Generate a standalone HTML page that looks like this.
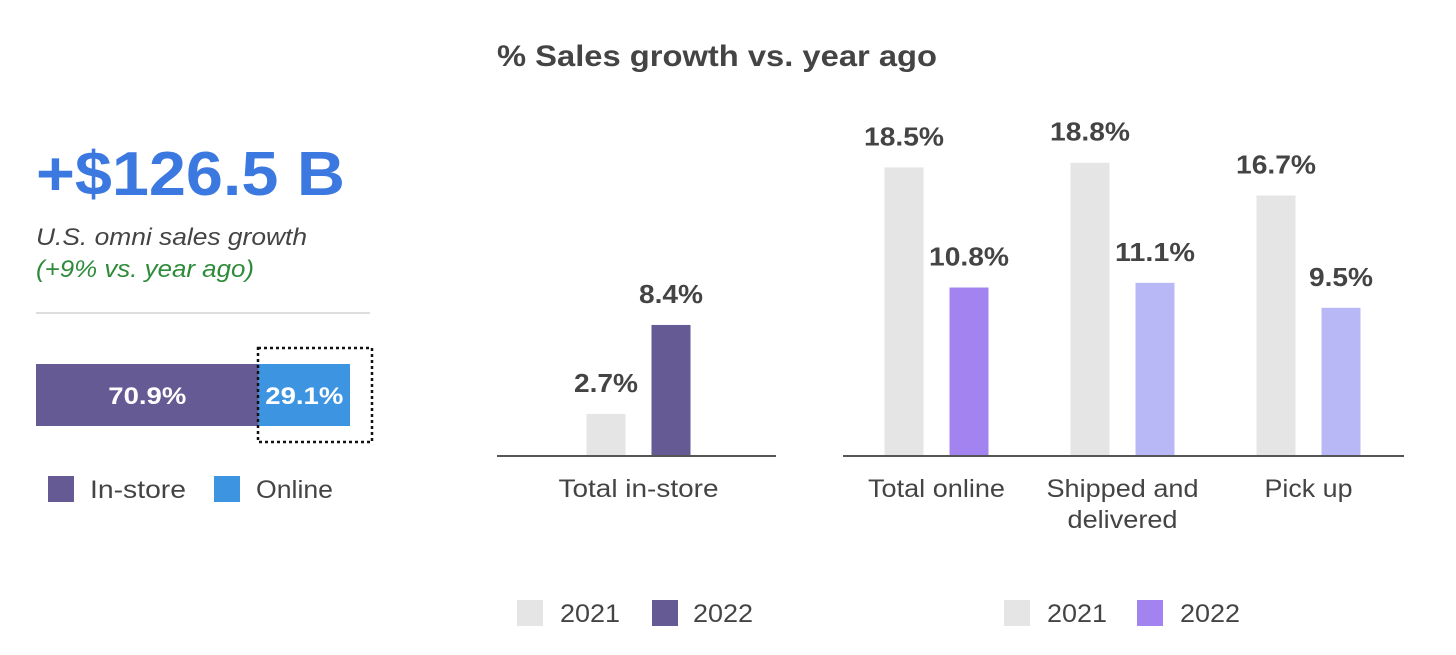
<!DOCTYPE html>
<html><head><meta charset="utf-8"><style>
body{margin:0;width:1456px;height:650px;background:#fff;font-family:"Liberation Sans",sans-serif;overflow:hidden}
svg text{font-family:"Liberation Sans",sans-serif}
</style></head><body>
<svg id="c" width="1456" height="650">
<text x="497" y="66" font-size="30" font-weight="bold" fill="#444" textLength="440" lengthAdjust="spacingAndGlyphs">% Sales growth vs. year ago</text>
<text x="36" y="195" font-size="62" font-weight="bold" fill="#3b78e0" textLength="309" lengthAdjust="spacingAndGlyphs">+$126.5 B</text>
<text x="36" y="245" font-size="24" font-style="italic" fill="#444" textLength="271" lengthAdjust="spacingAndGlyphs">U.S. omni sales growth</text>
<text x="36" y="277" font-size="24" font-style="italic" fill="#2e8b3a" textLength="218" lengthAdjust="spacingAndGlyphs">(+9% vs. year ago)</text>
<line x1="36" y1="313" x2="370" y2="313" stroke="#ddd" stroke-width="2"/>
<g id="stack"></g>
<rect x="258" y="348" width="114" height="94" fill="none" stroke="#111" stroke-width="2.5" stroke-dasharray="3,3"/>
<rect x="48" y="476" width="26" height="26" fill="#655a93"/>
<text x="90" y="498" font-size="25" fill="#444" textLength="96" lengthAdjust="spacingAndGlyphs">In-store</text>
<rect x="214" y="476" width="26" height="26" fill="#3d94e0"/>
<text x="256" y="498" font-size="25" fill="#444" textLength="77" lengthAdjust="spacingAndGlyphs">Online</text>
<g id="bars"></g>
<line x1="497" y1="456" x2="776" y2="456" stroke="#555" stroke-width="2"/>
<line x1="843" y1="456" x2="1404" y2="456" stroke="#555" stroke-width="2"/>
<rect x="517" y="600" width="26" height="26" fill="#e5e5e5"/>
<text x="560" y="622" font-size="25" fill="#444" textLength="60" lengthAdjust="spacingAndGlyphs">2021</text>
<rect x="652" y="600" width="26" height="26" fill="#655a93"/>
<text x="693" y="622" font-size="25" fill="#444" textLength="60" lengthAdjust="spacingAndGlyphs">2022</text>
<rect x="1004" y="600" width="26" height="26" fill="#e5e5e5"/>
<text x="1047" y="622" font-size="25" fill="#444" textLength="60" lengthAdjust="spacingAndGlyphs">2021</text>
<rect x="1137" y="600" width="26" height="26" fill="#a283ef"/>
<text x="1180" y="622" font-size="25" fill="#444" textLength="60" lengthAdjust="spacingAndGlyphs">2022</text>
</svg>
<script>
const shareLabels=["In-store","Online"];
const shareValues=[70.9,29.1];
const categories=["Total in-store","Total online","Shipped and delivered","Pick up"];
const values2021=[2.7,18.5,18.8,16.7];
const values2022=[8.4,10.8,11.1,9.5];
const NS="http://www.w3.org/2000/svg";
function mk(tag,attrs,parent){const e=document.createElementNS(NS,tag);for(const k in attrs)e.setAttribute(k,attrs[k]);parent.appendChild(e);return e;}
const stack=document.getElementById('stack');
const shareColors=["#655a93","#3d94e0"];
let sx=36;
shareValues.forEach((v,i)=>{const w=v/100*314;
 const r=mk('rect',{x:sx,y:364,width:w,height:62,fill:shareColors[i]},stack);
 
 
 const t=mk('text',{x:sx+w/2,y:404,'text-anchor':'middle','font-size':24,'font-weight':'bold',fill:'#fff',textLength:78,lengthAdjust:'spacingAndGlyphs'},stack);
 t.textContent=v.toFixed(1)+'%';
 
 
 sx+=w;});
const base=456,ppu=15.6;
const y=v=>base-v*ppu;
const groupX=[606,904,1090,1276];
const catLen={"Total in-store":160,"Total online":137,"Shipped and":152,"delivered":110,"Pick up":88};
const col2022=["#655a93","#a283ef","#b8b8f7","#b8b8f7"];
const g=document.getElementById('bars');
categories.forEach((c,i)=>{
 [[values2021[i],groupX[i],"#e5e5e5","2021"],[values2022[i],groupX[i]+65,col2022[i],"2022"]].forEach(([v,cx,fill,yr])=>{
  const r=mk('rect',{x:cx-19.5,y:y(v),width:39,height:v*ppu,fill:fill},g);
  
  
  const s=v.toFixed(1)+'%';
  const t=mk('text',{x:cx,y:y(v)-22,'text-anchor':'middle','font-size':26,'font-weight':'bold',fill:'#444',textLength:s.length*16,lengthAdjust:'spacingAndGlyphs'},g);
  t.textContent=s;
  
  
 });
 const words=c==="Shipped and delivered"?["Shipped and","delivered"]:[c];
 words.forEach((w,j)=>{const t=mk('text',{x:groupX[i]+32.5,y:497+j*31,'text-anchor':'middle','font-size':25,fill:'#444',textLength:catLen[w],lengthAdjust:'spacingAndGlyphs'},g);
  t.textContent=w;
  
  });
});
</script>
</body></html>
